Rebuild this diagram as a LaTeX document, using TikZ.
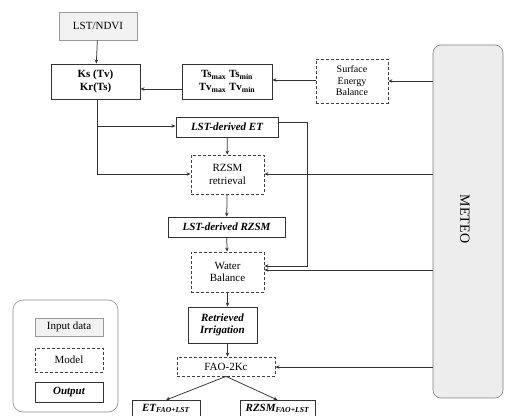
\documentclass[tikz,border=0pt]{standalone}
\usepackage{fontspec}
\setmainfont{Liberation Serif}
\usetikzlibrary{arrows.meta}
\begin{document}
\begin{tikzpicture}[x=1pt,y=-1pt,
  font=\fontsize{11}{12.5}\selectfont,
  every node/.style={align=center,inner sep=1pt},
  ln/.style={draw=black!80,line width=0.75pt},
  arr/.style={ln,-{Stealth[length=4pt,width=3.5pt]}},
  outbox/.style={draw=black!80,line width=0.9pt,fill=white},
  modbox/.style={draw=black!75,line width=0.8pt,dashed,dash pattern=on 3pt off 2pt,fill=white},
  inbox/.style={draw=black!40,line width=0.9pt,fill=black!5},
  bf/.style={font=\fontsize{11}{12.5}\selectfont\bfseries},
  bfit/.style={font=\fontsize{11}{12.5}\selectfont\bfseries\itshape}
]
\clip (0,0) rectangle (505,415);
\fill[white] (0,0) rectangle (505,415);

% METEO
\node[draw=black!50,fill=black!7,rounded corners=8pt,minimum width=70pt,minimum height=353pt,line width=0.6pt] (meteo) at (468,221.5) {};
\node[rotate=-90,font=\fontsize{14}{15}\selectfont] (meteotxt) at (465,219) {METEO};

% legend
\node[draw=black!45,rounded corners=10pt,minimum width=105pt,minimum height=112pt,line width=0.6pt] (legend) at (65.5,356) {};
\node[inbox,minimum width=68pt,minimum height=18pt] (inp) at (69,327) {Input data};
\node[modbox,minimum width=68pt,minimum height=24pt] (mod) at (69,360) {Model};
\node[outbox,minimum width=68pt,minimum height=20pt,bfit] (outp) at (69,392) {Output};

% boxes
\node[inbox,minimum width=78pt,minimum height=28pt] (lst) at (98,26) {LST/NDVI};
\node[outbox,minimum width=89pt,minimum height=35pt,bf] (ks) at (95.5,81.5) {Ks (Tv)\\Kr(Ts)};
\node[outbox,minimum width=90pt,minimum height=35pt,bf] (ts) at (227,81.5) {Ts\textsubscript{max} Ts\textsubscript{min}\\Tv\textsubscript{max} Tv\textsubscript{min}};
\node[modbox,minimum width=72pt,minimum height=44pt,font=\fontsize{10}{11.5}\selectfont] (seb) at (352,81) {Surface\\Energy\\Balance};
\node[outbox,minimum width=102pt,minimum height=20pt,bfit] (et) at (227,127) {LST-derived ET};
\node[modbox,minimum width=73pt,minimum height=39pt] (rr) at (227.5,174.5) {RZSM\\retrieval};
\node[outbox,minimum width=117pt,minimum height=20pt,bfit] (lr) at (226.5,227) {LST-derived RZSM};
\node[modbox,minimum width=73pt,minimum height=40pt] (wb) at (227.5,272) {Water\\Balance};
\node[outbox,minimum width=69pt,minimum height=36pt,bfit] (irr) at (222.5,325) {Retrieved\\Irrigation};
\node[modbox,minimum width=98pt,minimum height=19pt] (fao) at (226,366.5) {FAO-2Kc};
\node[outbox,minimum width=68pt,minimum height=26pt,anchor=north] (etf) at (166,400) {};
\node[outbox,minimum width=75pt,minimum height=26pt,anchor=north] (rzf) at (277.5,400) {};
\node[anchor=base,bfit] (etft) at (166,411) {ET\textsubscript{FAO+LST}};
\node[anchor=base,bfit] (rzft) at (277.5,411) {RZSM\textsubscript{FAO+LST}};

% coordinates
\coordinate (kx) at (97,99);
\coordinate (kb) at (97,174);
\coordinate (ke) at (97,126);
\coordinate (etc) at (307,122);
\coordinate (etd) at (307,266);

% connectors
\draw[arr] (lst) -- (ks);
\draw[arr] (ts.west |- 0,89) -- (ks.east |- 0,89);
\draw[arr] (seb.west |- 0,80) -- (ts.east |- 0,80);
\draw[arr] (meteo.west |- 0,81) -- (seb.east |- 0,81);
\draw[ln] (kx) -- (kb);
\draw[arr] (kb) -- (rr.west |- kb);
\draw[arr] (ke) -- (et.west |- ke);
\draw[arr] (et) -- (rr);
\draw[arr] (meteo.west |- 0,174) -- (rr.east |- 0,174);
\draw[arr] (rr) -- (lr);
\draw[arr] (lr) -- (wb);
\draw[ln] (et.east |- etc) -- (etc);
\draw[arr] (etc) -- (etd) -- (wb.east |- etd);
\draw[arr] (meteo.west |- 0,270) -- (wb.east |- 0,270);
\draw[arr] (wb.south -| 227.5,0) -- (irr.north -| 227.5,0);
\draw[arr] (irr.south -| 227.5,0) -- (fao.north -| 227.5,0);
\draw[arr] (meteo.west |- 0,367) -- (fao.east |- 0,367);
\draw[arr] (fao.south) -- (etf.north);
\draw[arr] (fao.south) -- (rzf.north);
\end{tikzpicture}
\end{document}
